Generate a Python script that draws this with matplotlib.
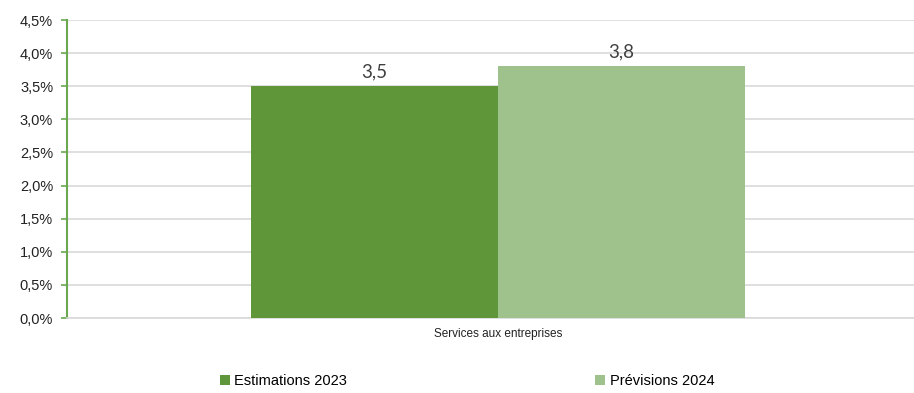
import matplotlib.pyplot as plt
import matplotlib.ticker as mticker

# données
categorie = ['Services aux entreprises']
series = ['Estimations 2023', 'Prévisions 2024']
valeurs = [3.5, 3.8]
couleurs = ['#5F963A', '#9FC18C']
etiquettes = ['3,5', '3,8']

plt.rcParams['font.family'] = ['Liberation Sans', 'DejaVu Sans']

fig = plt.figure(figsize=(9.14, 3.93), dpi=100)
ax = fig.add_axes([0.0733, 0.1908, 0.9267, 0.7583])

larg = 1.0
pos = [-larg / 2, larg / 2]
barres = []
for i in range(len(series)):
    b = ax.bar(pos[i], valeurs[i], width=larg, color=couleurs[i], label=series[i], zorder=3)
    barres.append(b)
    ax.text(pos[i], valeurs[i] + 0.09, etiquettes[i], ha='center', va='bottom',
            fontsize=13.5, color='#404040', family=['Lato', 'DejaVu Sans'])

ax.set_xlim(-1.745, 1.684)
ax.set_ylim(0, 4.5)
ax.yaxis.set_major_locator(mticker.MultipleLocator(0.5))
ax.yaxis.set_major_formatter(mticker.FuncFormatter(lambda v, p: f'{v:.1f}'.replace('.', ',') + '%'))
ax.grid(axis='y', color='#D9D9D9', linewidth=1.2, zorder=0)
ax.set_xticks([0])
ax.set_xticklabels(categorie, fontsize=8.5, color='#222222')
ax.tick_params(axis='x', length=0, pad=7)
ax.tick_params(axis='y', labelsize=10.5, colors='#6AA84F', labelcolor='#222222', length=4, width=1.2, pad=6)

for s in ['top', 'right']:
    ax.spines[s].set_visible(False)
ax.spines['left'].set_color('#6AA84F')
ax.spines['left'].set_linewidth(1.5)
ax.spines['bottom'].set_color('#D9D9D9')
ax.spines['bottom'].set_linewidth(1.2)

fig.legend(handles=[b[0] for b in barres], labels=series, loc='center', bbox_to_anchor=(0.511, 0.03),
           ncol=2, frameon=False, fontsize=10.5, handlelength=0.7, handleheight=0.7,
           handletextpad=0.3, columnspacing=17, borderaxespad=0, borderpad=0.1)

fig.savefig('out.png', dpi=100)
